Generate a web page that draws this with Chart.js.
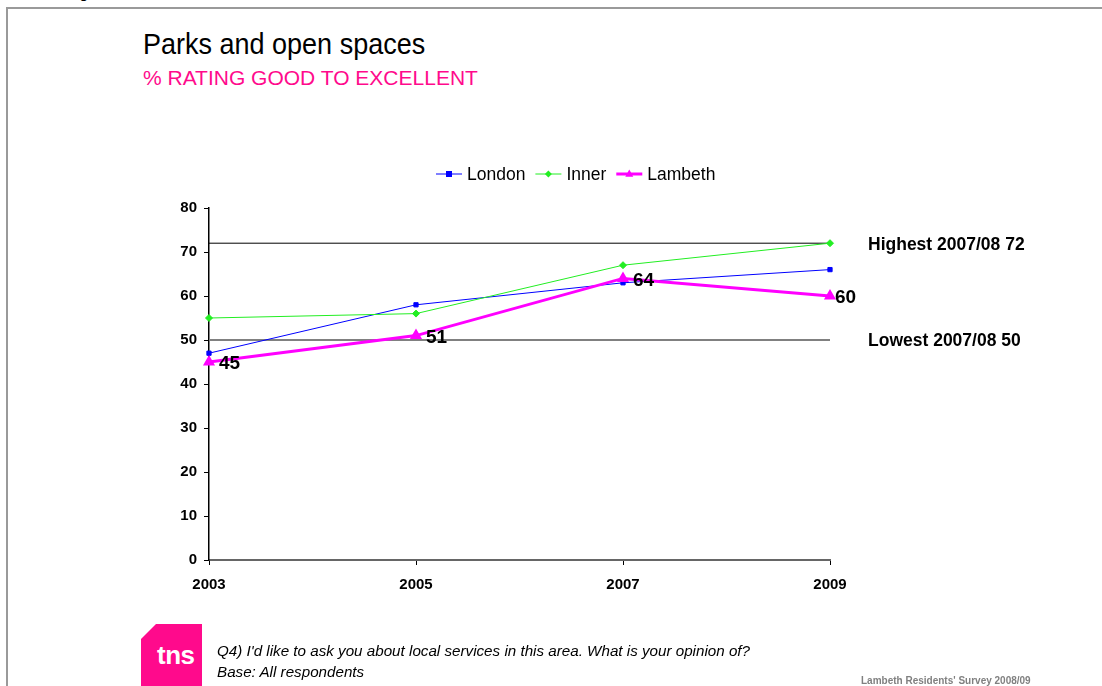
<!DOCTYPE html>
<html lang="en">
<head>
    <meta charset="UTF-8">
    <title>Parks and open spaces</title>
    <script src="https://cdn.jsdelivr.net/npm/chart.js"></script>
    <style>
        body { margin: 0; background: #fff; font-family: "Liberation Sans", Arial, sans-serif; }
        #page { position: relative; width: 1102px; height: 686px; overflow: hidden; }
        #frame { position: absolute; left: 6px; top: 7px; width: 1200px; height: 800px; border: 2px solid #9a9a9a; }
        #cut { position: absolute; left: 42px; top: -16px; font-size: 16px; line-height: 18px; color: #000; }
        #title { position: absolute; left: 143px; top: 26px; font-size: 27px; line-height: 32px; color: #000; transform: scaleY(1.1); transform-origin: left top; }
        #subtitle { position: absolute; left: 143px; top: 65px; font-size: 21px; line-height: 26px; color: #ff0a8c; }
        #logo { position: absolute; left: 141px; top: 624px; width: 61px; height: 62px; background: #ff0a8c; overflow: hidden;
                clip-path: polygon(15px 0, 100% 0, 100% 100%, 0 100%, 0 15px); }
        #logo span { position: absolute; left: 16px; top: 16px; font-size: 26px; line-height: 30px; font-weight: bold; color: #fff; letter-spacing: -0.5px; }
        #question { position: absolute; left: 217px; top: 640px; font-size: 15.2px; font-style: italic; color: #000; line-height: 21px; }
        #source { position: absolute; left: 861px; top: 675px; font-size: 10px; line-height: 12px; font-weight: bold; color: #808080; }
        canvas { position: absolute; left: 0; top: 0; }
    </style>
</head>
<body>
<div id="page">
    <div id="frame"></div>
    <div id="cut">Ratings</div>
    <div id="title">Parks and open spaces</div>
    <div id="subtitle">% RATING GOOD TO EXCELLENT</div>
    <canvas id="parksChart" width="1102" height="686"></canvas>
    <div id="logo"><span>tns</span></div>
    <div id="question">Q4) I'd like to ask you about local services in this area. What is your opinion of?<br>Base: All respondents</div>
    <div id="source">Lambeth Residents' Survey 2008/09</div>
</div>
<script>
    // Survey years and results
    const years = ['2003', '2005', '2007', '2009'];
    const london = [47, 58, 63, 66];
    const inner = [55, 56, 67, 72];
    const lambeth = [45, 51, 64, 60];

    // Benchmark range across boroughs, 2007/08
    const highest = 72;
    const lowest = 50;

    const FONT = '"Liberation Sans", Arial, sans-serif';

    // Draw a marker in the same style as the series points
    function marker(ctx, style, x, y, r, color) {
        ctx.fillStyle = color;
        ctx.beginPath();
        if (style === 'rect') {
            ctx.rect(x - r, y - r, r * 2, r * 2);
        } else if (style === 'rectRot') {
            ctx.moveTo(x, y - r); ctx.lineTo(x + r, y); ctx.lineTo(x, y + r); ctx.lineTo(x - r, y);
        } else {
            ctx.moveTo(x, y - r * 1.1); ctx.lineTo(x + r, y + r * 0.7); ctx.lineTo(x - r, y + r * 0.7);
        }
        ctx.closePath();
        ctx.fill();
    }

    const labelsPlugin = {
        id: 'labels',
        afterDatasetsDraw(chart) {
            const ctx = chart.ctx;
            const y = chart.scales.y;
            const area = chart.chartArea;
            ctx.save();

            // Lambeth values next to each point (last one sits tighter to its marker)
            const meta = chart.getDatasetMeta(2);
            ctx.font = 'bold 19px ' + FONT;
            ctx.fillStyle = '#000';
            ctx.textBaseline = 'middle';
            ctx.textAlign = 'left';
            meta.data.forEach((pt, i) => {
                const dx = i === meta.data.length - 1 ? 5 : 10;
                ctx.fillText(String(lambeth[i]), pt.x + dx, pt.y + 2);
            });

            // Benchmark captions
            ctx.font = 'bold 17.5px ' + FONT;
            ctx.fillText('Highest 2007/08 ' + highest, area.right + 38, y.getPixelForValue(highest) + 1.5);
            ctx.fillText('Lowest 2007/08 ' + lowest, area.right + 38, y.getPixelForValue(lowest) + 1.5);

            // Legend: line segment with marker, then name
            ctx.font = '17.5px ' + FONT;
            let lx = 436;
            const ly = 174;
            [0, 1, 2].forEach(i => {
                const ds = chart.data.datasets[i];
                ctx.strokeStyle = ds.borderColor;
                ctx.lineWidth = ds.borderWidth;
                ctx.beginPath();
                ctx.moveTo(lx, ly);
                ctx.lineTo(lx + 26, ly);
                ctx.stroke();
                marker(ctx, ds.pointStyle, lx + 13, ly, ds.pointRadius, ds.borderColor);
                ctx.fillStyle = '#000';
                ctx.fillText(ds.label, lx + 31, ly + 1);
                lx += 31 + ctx.measureText(ds.label).width + 10;
            });
            ctx.restore();
        }
    };

    const flat = v => years.map(() => v);

    new Chart(document.getElementById('parksChart'), {
        type: 'line',
        data: {
            labels: years,
            datasets: [
                { label: 'London', data: london, borderColor: '#0000ff', backgroundColor: '#0000ff',
                  borderWidth: 1, pointStyle: 'rect', pointRadius: 3, order: 2 },
                { label: 'Inner', data: inner, borderColor: '#22ee22', backgroundColor: '#22ee22',
                  borderWidth: 1, pointStyle: 'rectRot', pointRadius: 3.5, order: 1 },
                { label: 'Lambeth', data: lambeth, borderColor: '#ff00ff', backgroundColor: '#ff00ff',
                  borderWidth: 3, pointStyle: 'triangle', pointRadius: 4, order: 0 },
                { label: 'Highest', data: flat(highest), borderColor: '#000', borderWidth: 1,
                  pointRadius: 0, order: 10 },
                { label: 'Lowest', data: flat(lowest), borderColor: '#808080', borderWidth: 2,
                  pointRadius: 0, order: 11 }
            ]
        },
        options: {
            responsive: false,
            animation: false,
            devicePixelRatio: 1,
            clip: false,
            elements: { line: { tension: 0 }, point: { borderWidth: 0 } },
            layout: { padding: { left: 164, right: 272, top: 208, bottom: 86 } },
            plugins: { legend: { display: false }, tooltip: { enabled: false } },
            scales: {
                x: {
                    offset: false,
                    grid: { drawOnChartArea: false, tickLength: 5, color: '#000' },
                    border: { color: '#666', width: 2 },
                    ticks: { color: '#000', font: { family: FONT, size: 15, weight: 'bold' }, padding: 11, maxRotation: 0 },
                    afterFit: s => { s.height = 40; }
                },
                y: {
                    min: 0,
                    max: 80,
                    grid: { drawOnChartArea: false, tickLength: 5, color: '#000' },
                    border: { color: '#000', width: 1.5 },
                    ticks: { stepSize: 10, color: '#000', font: { family: FONT, size: 15, weight: 'bold' }, padding: 7 },
                    afterFit: s => { s.width = 45; }
                }
            }
        },
        plugins: [labelsPlugin]
    });
</script>
</body>
</html>
